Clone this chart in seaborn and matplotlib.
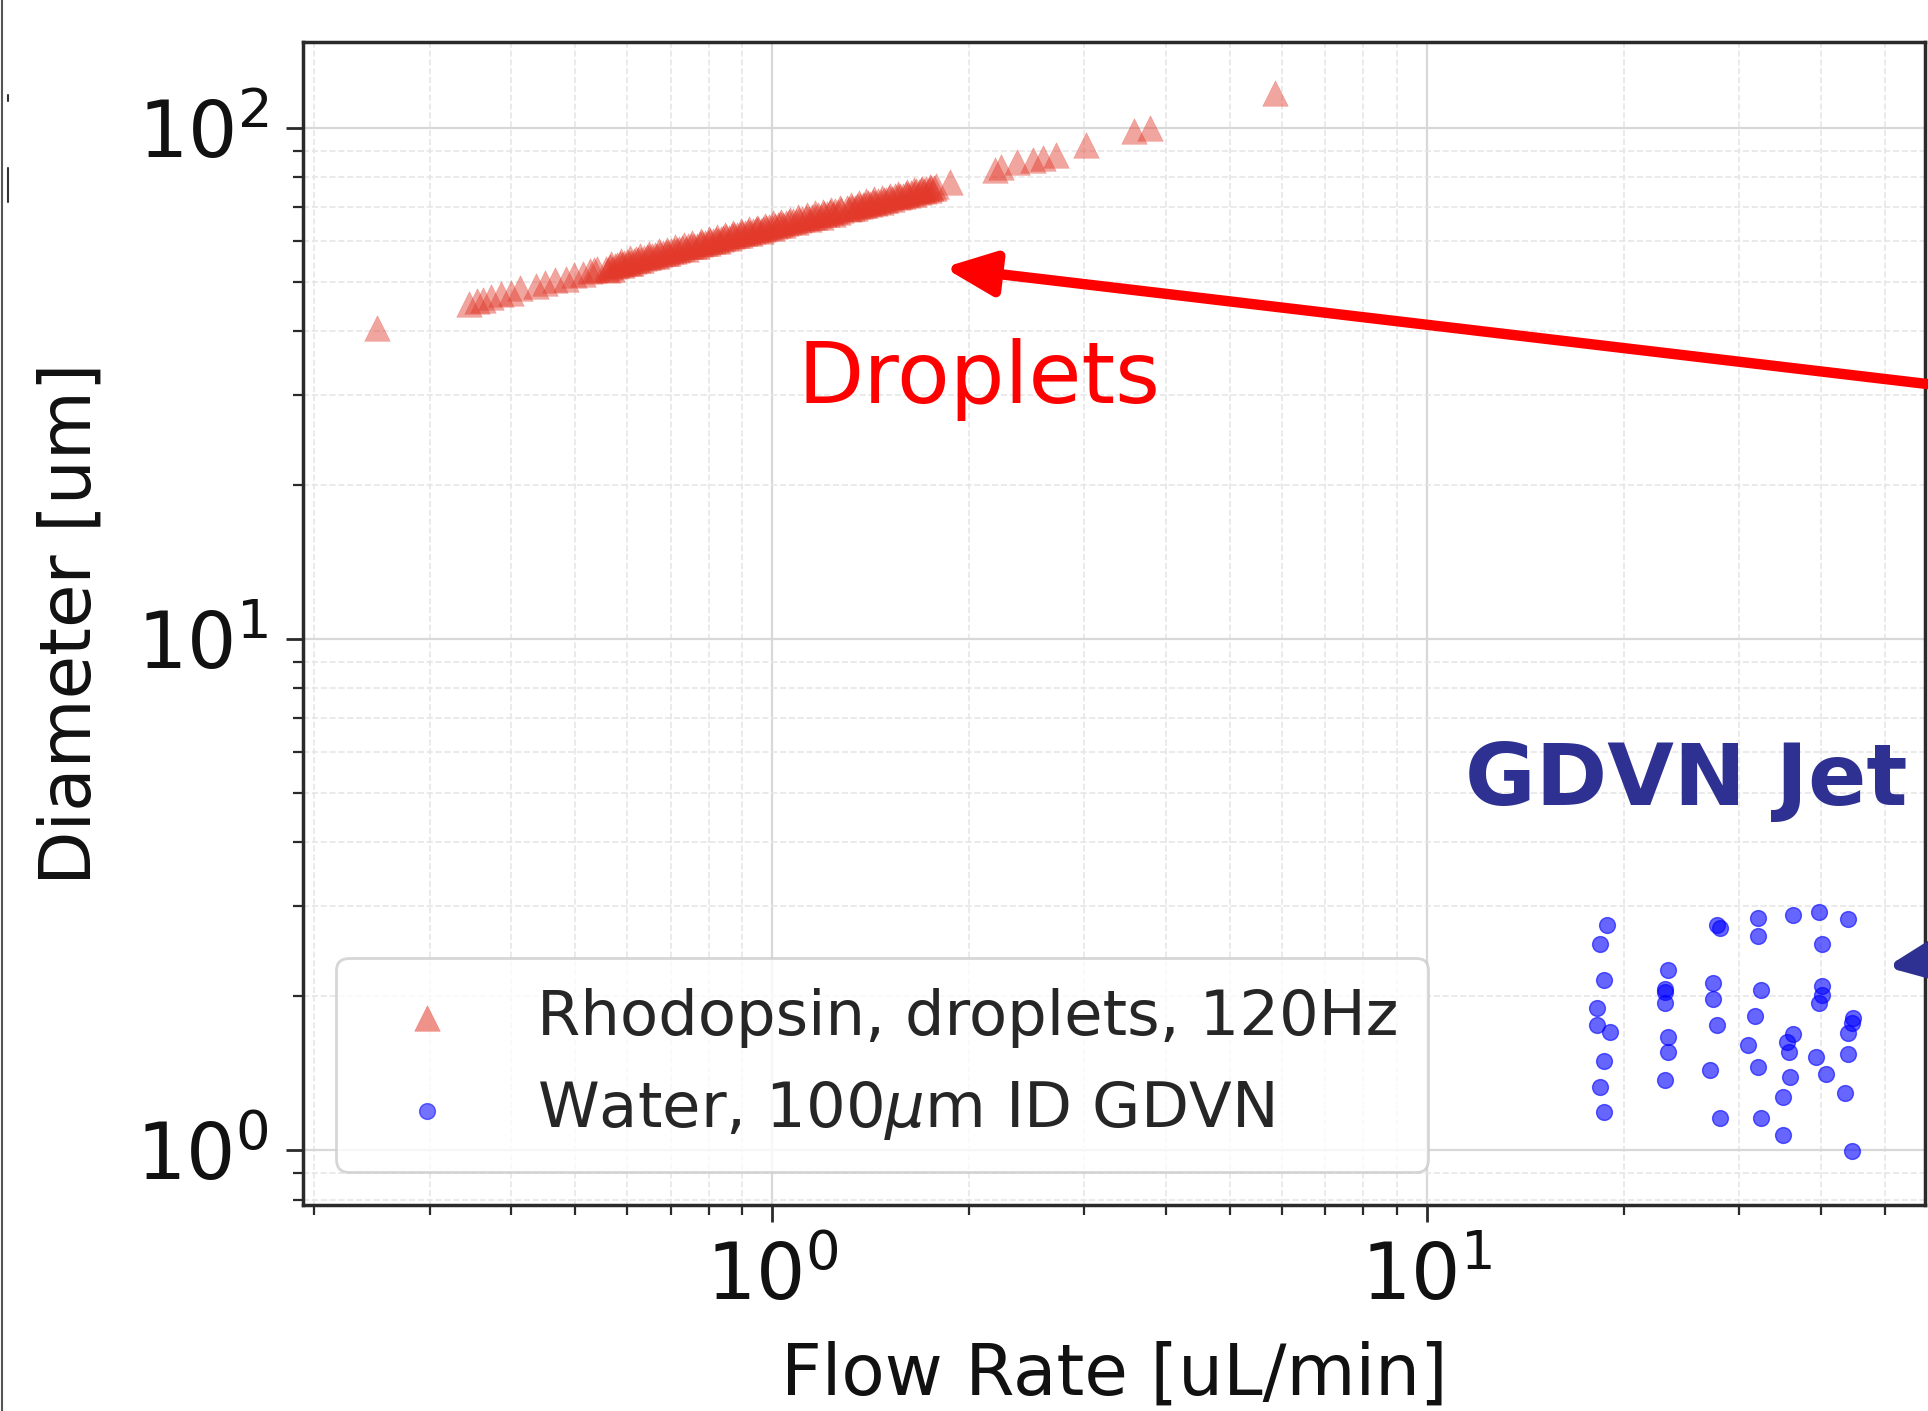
import numpy as np
import pandas as pd
import matplotlib
matplotlib.use("Agg")
import matplotlib.pyplot as plt
from matplotlib.lines import Line2D
import seaborn as sns

# ---------------- data ----------------
rho_flow = [0.249, 0.345, 0.355, 0.362, 0.372, 0.386, 0.400, 0.412, 0.436, 0.450,
            0.466, 0.485, 0.499, 0.515, 0.527, 0.535, 0.541,
            0.558, 0.565, 0.575, 0.585, 0.595, 0.605, 0.615, 0.625, 0.638, 0.650,
            0.662, 0.675, 0.688, 0.700, 0.715, 0.730, 0.745, 0.760, 0.775, 0.790,
            0.805, 0.820, 0.835, 0.850, 0.868, 0.885, 0.900, 0.918, 0.935, 0.952,
            0.970, 0.990, 1.010, 1.030, 1.050, 1.075, 1.100, 1.125, 1.150, 1.175,
            1.200, 1.225, 1.250, 1.275,
            1.300, 1.325, 1.350, 1.375, 1.400, 1.425, 1.450, 1.480, 1.510, 1.540,
            1.570, 1.600, 1.630, 1.660, 1.690, 1.720, 1.750, 1.780, 1.870,
            2.19, 2.24, 2.37, 2.50, 2.59, 2.71, 3.02, 3.57, 3.78, 5.87]
rho_diam = [40.6, 45.3, 45.9, 46.0, 46.6, 47.2, 47.6, 48.5, 49.0, 49.6,
            50.3, 50.6, 51.5, 51.8, 52.4, 52.6, 53.0,
            53.0, 53.4, 53.6, 54.1, 54.4, 54.5, 55.0, 55.2, 55.7, 55.9,
            56.4, 56.7, 56.9, 57.4, 57.7, 58.1, 58.6, 58.8, 59.3, 59.6,
            60.1, 60.4, 60.7, 61.2, 61.5, 61.8, 62.3, 62.5, 62.9, 63.4,
            63.5, 64.1, 64.4, 64.9, 65.1, 65.8, 66.1, 66.7, 67.0, 67.5,
            67.8, 68.4, 68.7, 69.2,
            69.6, 69.8, 70.4, 70.7, 71.2, 71.5, 71.9, 72.4, 72.8, 73.4,
            73.7, 74.3, 74.6, 75.1, 75.5, 76.0, 76.3, 76.8, 78.5,
            82.8, 84.0, 85.9, 86.5, 87.3, 88.5, 92.6, 98.4, 100.0, 116.9]

# additional, interleaved readings from the dense part of the droplet band
rho_flow_dense = [0.562, 0.570, 0.580, 0.590, 0.600, 0.610, 0.620, 0.632, 0.644, 0.656,
                  0.668, 0.681, 0.694, 0.708, 0.722, 0.738, 0.752, 0.768, 0.782, 0.798,
                  0.812, 0.828, 0.842, 0.859, 0.876, 0.892, 0.909, 0.926, 0.944, 0.961,
                  0.980, 1.000, 1.020, 1.040, 1.062, 1.088, 1.112, 1.138, 1.162, 1.188,
                  1.212, 1.238, 1.262,
                  1.312, 1.338, 1.362, 1.388, 1.412, 1.438, 1.465, 1.495, 1.525, 1.555,
                  1.585, 1.615, 1.645, 1.675, 1.705, 1.735, 1.765]
rho_diam_dense = [52.6, 53.0, 53.8, 53.9, 54.6, 54.4, 55.3, 55.2, 55.9, 56.1,
                  56.2, 56.9, 57.0, 57.3, 57.9, 58.0, 58.7, 58.8, 59.5, 59.5,
                  60.2, 60.2, 60.9, 60.9, 61.7, 61.6, 62.4, 62.3, 63.1, 62.9,
                  63.7, 63.8, 64.6, 64.5, 65.3, 65.4, 66.2, 66.2, 67.0, 67.0,
                  67.7, 67.8, 68.5,
                  69.4, 69.8, 70.3, 70.6, 71.0, 71.4, 71.7, 72.3, 72.5, 73.2,
                  73.4, 74.0, 74.3, 74.8, 75.2, 75.6, 76.1]
rho_flow_dense2 = [0.568, 0.588, 0.608, 0.628, 0.648, 0.671, 0.692, 0.712, 0.735, 0.756,
                   0.779, 0.802, 0.825, 0.848, 0.872, 0.897, 0.922, 0.948, 0.975, 1.003,
                   1.033, 1.065, 1.095, 1.130, 1.165, 1.198, 1.232, 1.268,
                   1.318, 1.356, 1.394, 1.432, 1.472, 1.515, 1.560, 1.605, 1.650,
                   1.695, 1.740]
rho_diam_dense2 = [54.2, 54.8, 55.6, 56.1, 56.7, 57.4, 57.8, 58.4, 59.0, 59.4,
                   60.0, 60.6, 61.1, 61.6, 62.2, 62.7, 63.3, 63.8, 64.4, 65.0,
                   65.5, 66.1, 66.8, 67.4, 68.0, 68.5, 69.1, 69.7,
                   70.6, 71.3, 71.8, 72.5, 73.0, 73.7, 74.3, 74.9, 75.5,
                   76.0, 76.6]

water_flow = [18.85, 18.4, 18.63, 18.2, 18.16, 19.06, 18.63, 18.4, 18.63,
              23.36, 23.09, 23.09, 23.09, 23.36, 23.36, 23.09,
              27.69, 28.0, 27.37, 27.37, 27.69, 27.04, 28.0,
              32.03, 32.03, 32.4, 31.65, 30.92, 32.03, 32.4,
              36.22, 36.22, 35.45, 35.78, 35.84, 35.03, 35.03,
              39.71, 40.18, 40.18, 40.18, 39.71, 39.34, 40.74,
              43.98, 44.66, 44.5, 43.98, 43.98, 43.46, 44.5]
water_diam = [2.756, 2.53, 2.15, 1.894, 1.757, 1.704, 1.494, 1.330, 1.185,
              2.25, 2.07, 2.04, 1.937, 1.662, 1.557, 1.371,
              2.756, 2.716, 2.125, 1.972, 1.757, 1.434, 1.153,
              2.84, 2.62, 2.056, 1.832, 1.605, 1.451, 1.153,
              2.884, 1.687, 1.629, 1.557, 1.391, 1.272, 1.070,
              2.927, 2.526, 2.094, 2.011, 1.942, 1.518, 1.408,
              2.828, 1.81, 1.77, 1.696, 1.539, 1.291, 0.997]

rho_label = "Rhodopsin, droplets, 120Hz"
water_label = r"Water, 100$\mu$m ID GDVN"

df_rho = pd.DataFrame({"flow": rho_flow + rho_flow_dense + rho_flow_dense2,
                       "diam": rho_diam + rho_diam_dense + rho_diam_dense2})
df_water = pd.DataFrame({"flow": water_flow, "diam": water_diam})

# ---------------- style ----------------
sns.set_theme(style="white")
plt.rcParams["font.family"] = ["DejaVu Sans"]
plt.rcParams["mathtext.fontset"] = "dejavusans"

fig = plt.figure(figsize=(19.28, 14.11), dpi=100)
ax = fig.add_axes([0.1572, 0.146, 0.8412, 0.8242])

red = "#e2392a"
blue = "#0000ff"

sns.scatterplot(data=df_rho, x="flow", y="diam", ax=ax, marker="^", s=340,
                color=red, alpha=0.45, edgecolor=red, linewidth=0.3,
                label=rho_label, zorder=3)
sns.scatterplot(data=df_water, x="flow", y="diam", ax=ax, marker="o", s=130,
                color=blue, alpha=0.6, edgecolor=blue, linewidth=1,
                label=water_label, zorder=3)

ax.set_xscale("log")
ax.set_yscale("log")
ax.set_xlim(0.1923, 57.6)
ax.set_ylim(0.7805, 147.2)

ax.grid(which="major", color="#d8d8d8", linestyle="-", linewidth=1.6)
ax.grid(which="minor", color="#e6e6e6", linestyle="--", linewidth=1.2)
ax.set_axisbelow(True)

for sp in ax.spines.values():
    sp.set_color("#2a2a2a")
    sp.set_linewidth(2.5)

ax.tick_params(which="major", direction="out", length=12, width=2,
               color="#2a2a2a", labelsize=56, left=True, bottom=True)
ax.tick_params(which="minor", direction="out", length=7, width=1.6,
               color="#2a2a2a", left=True, bottom=True)
ax.tick_params(axis="x", which="major", pad=13)
ax.tick_params(axis="y", which="major", pad=13)

ax.set_xlabel("Flow Rate [uL/min]", fontsize=51, labelpad=18, color="#111111")
ax.set_ylabel("Diameter [um]", fontsize=51, labelpad=22, color="#111111")
for t in ax.get_xticklabels() + ax.get_yticklabels():
    t.set_color("#111111")

leg = ax.legend(loc="lower left", bbox_to_anchor=(0.0203, 0.0284),
                borderaxespad=0, fontsize=45, frameon=True, framealpha=0.8,
                edgecolor="#cccccc", fancybox=True, markerscale=1.0,
                handletextpad=0.78, labelspacing=0.5, borderpad=0.48,
                handlelength=1.95)
leg.get_frame().set_linewidth(2)
for h in leg.legend_handles:
    h.set_alpha(0.55)

# annotations
ax.text(1.095, 29.0, "Droplets", color="#ff0000", fontsize=62,
        ha="left", va="baseline")
ax.text(11.43, 4.73, "GDVN Jet", color="#2e3192", fontsize=62,
        fontweight="bold", ha="left", va="baseline")

ax.annotate("", xy=(1.83, 53.3), xytext=(306, 24.5),
            xycoords="data", textcoords="data", annotation_clip=False,
            arrowprops=dict(arrowstyle="-|>,head_length=0.5,head_width=0.22",
                            mutation_scale=60, lw=7.5, color="#ff0000",
                            shrinkA=0, shrinkB=0))
ax.annotate("", xy=(50.3, 2.28), xytext=(306, 3.21),
            xycoords="data", textcoords="data", annotation_clip=False,
            arrowprops=dict(arrowstyle="-|>,head_length=0.5,head_width=0.22",
                            mutation_scale=60, lw=7.5, color="#2e3192",
                            shrinkA=0, shrinkB=0))

# frame line at left edge of picture and small stray marks
fig.add_artist(Line2D([0.0008, 0.0008], [0, 1], transform=fig.transFigure,
                      color="#555555", lw=1.5))
fig.add_artist(Line2D([0.0042, 0.0042], [1 - 95 / 1411, 1 - 101 / 1411],
                      transform=fig.transFigure, color="#333333", lw=1.5))
fig.add_artist(Line2D([0.0042, 0.0042], [1 - 168 / 1411, 1 - 202 / 1411],
                      transform=fig.transFigure, color="#333333", lw=1.5))

fig.savefig("out.png", dpi=100, facecolor="white")
